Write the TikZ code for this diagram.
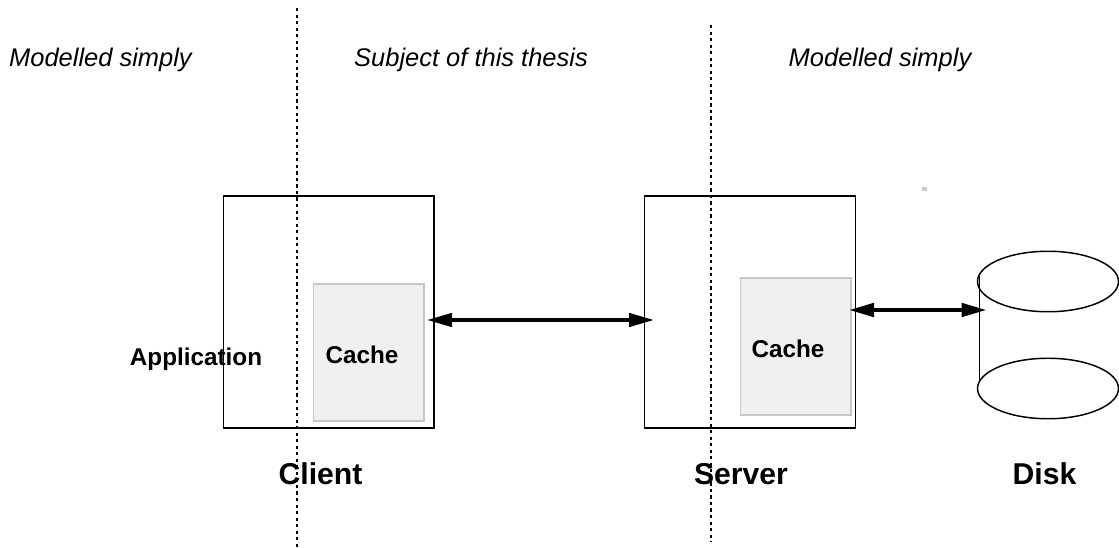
\documentclass[tikz,border=0pt]{standalone}
\usepackage{fontspec}
\setmainfont{Liberation Sans}
\usetikzlibrary{arrows.meta,shapes.geometric}
\tikzset{
  x=0.75pt,y=-0.75pt,
  box/.style={draw=black,line width=1.1pt,fill=white,minimum width=210.5*0.75pt,minimum height=232*0.75pt,inner sep=0pt,outer sep=0pt},
  cachebox/.style={draw=black!22,fill=black!6,line width=1.3pt,minimum width=110.5*0.75pt,minimum height=137*0.75pt,inner sep=0pt,outer sep=0pt},
  plate/.style={draw=black,line width=1.1pt,fill=white,ellipse,minimum width=141*0.75pt,minimum height=60.5*0.75pt,inner sep=0pt,outer sep=0pt},
  divider/.style={line width=1.2pt,dash pattern=on 2.4pt off 2.5pt},
  link/.style={line width=2.6pt,{Triangle[length=18.75pt,width=10pt]}-{Triangle[length=18.75pt,width=10pt]}},
  zone/.style={font=\fontsize{19.1pt}{22pt}\selectfont\itshape,inner sep=0pt},
  small/.style={font=\fontsize{18.2pt}{22pt}\selectfont\bfseries,inner sep=0pt},
  big/.style={font=\fontsize{22.6pt}{26pt}\selectfont\bfseries,inner sep=0pt}
}
\begin{document}
\begin{tikzpicture}
\useasboundingbox (0,0) rectangle (1119,548);
\node[box] (client) at (328.75,312) {};
\node[box] (server) at (750,312) {};
\node[cachebox] (ccache) at (368.75,352.5) {};
\node[cachebox] (scache) at (795.75,346.5) {};
\node[small] (capp) at (196,359) {Application};
\node[small] (cclbl) at (362,355) {Cache};
\node[small] (sclbl) at (788,349) {Cache};
\coordinate (dt1) at (297,8);
\coordinate (db1) at (297,548);
\coordinate (dt2) at (711,25);
\coordinate (db2) at (711,542);
\draw[divider] (dt1) -- (db1);
\draw[divider] (dt2) -- (db2);
\node[plate] (disktop) at (1048,281.5) {};
\node[plate] (diskbot) at (1048,388.5) {};
\coordinate (cyltop) at (979.5,276);
\coordinate (cylbot) at (979.5,381);
\draw[line width=1.2pt] (cyltop) -- (cylbot);
\coordinate (a1l) at (427,320);
\coordinate (a1r) at (654,320);
\coordinate (a2l) at (849,310);
\coordinate (a2r) at (986.5,310);
\draw[link] (a1l) -- (a1r);
\draw[link,line width=3pt] (a2l) -- (a2r);
\node[zone] (z1) at (100.5,60) {Modelled simply};
\node[zone] (z2) at (471,60) {Subject of this thesis};
\node[zone] (z3) at (880,60) {Modelled simply};
\node[big] (lclient) at (320.5,474) {Client};
\node[big] (lserver) at (741,474) {Server};
\node[big] (ldisk) at (1044.5,474) {Disk};
\fill[black!22] (922.3,186.8) rectangle (927,191.5);
\end{tikzpicture}
\end{document}
